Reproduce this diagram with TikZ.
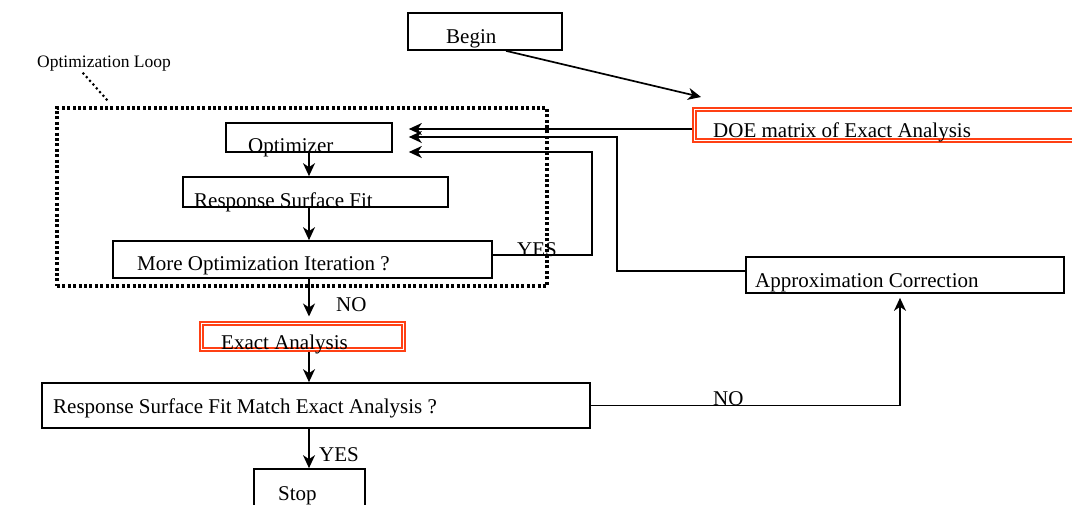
\documentclass[tikz,border=0pt]{standalone}
\usepackage{fontspec}
\setmainfont{Liberation Serif}
\usetikzlibrary{arrows.meta}
\definecolor{boxred}{RGB}{255,64,20}
\begin{document}
\begin{tikzpicture}[x=1pt,y=-1pt,
  box/.style={draw, line width=1.7pt, rectangle, inner sep=0pt},
  redbox/.style={draw=boxred, line width=2pt, rectangle, inner sep=0pt},
  redinner/.style={draw=boxred, line width=2pt},
  lbl/.style={anchor=base west, inner sep=0pt, font=\fontsize{21}{21}\selectfont},
  conn/.style={line width=1.7pt, -{Stealth[length=13pt,width=12pt,inset=4pt]}},
  loopbox/.style={draw, line width=3.2pt, dash pattern=on 3pt off 2.4pt, rectangle, inner sep=0pt},
]
\clip (0,0) rectangle (1072,504);
\fill[white] (0,0) rectangle (1072,504);

% boxes
\node[box, minimum width=154pt, minimum height=37pt] (begin) at (485,31.5) {};
\node[box, minimum width=166pt, minimum height=29pt] (opt) at (309,137.5) {};
\node[box, minimum width=265pt, minimum height=30pt] (rsf) at (315.5,192) {};
\node[box, minimum width=379pt, minimum height=37pt] (moreopt) at (302.5,259.5) {};
\node[redbox, minimum width=392pt, minimum height=34pt] (doe) at (889,125) {};
\draw[redinner] ([shift={(4pt,-4pt)}]doe.north west) rectangle ([shift={(-4pt,4pt)}]doe.south east);
\node[redbox, minimum width=205pt, minimum height=29pt] (exact) at (302.5,336.5) {};
\draw[redinner] ([shift={(4pt,-4pt)}]exact.north west) rectangle ([shift={(-4pt,4pt)}]exact.south east);
\node[box, minimum width=318pt, minimum height=36pt] (approx) at (905,275) {};
\node[box, minimum width=548pt, minimum height=45pt] (rsfm) at (316,405.5) {};
\node[box, minimum width=111pt, minimum height=43pt] (stop) at (309.5,490.5) {};
\node[loopbox, minimum width=490pt, minimum height=178pt] (loop) at (302,197) {};

% texts
\node[lbl] (tbegin) at (446,43) {Begin};
\node[lbl] (topt) at (248,152) {Optimizer};
\node[lbl] (trsf) at (194,207) {Response Surface Fit};
\node[lbl] (tmore) at (137,270) {More Optimization Iteration ?};
\node[lbl] (tdoe) at (713,137) {DOE matrix of Exact Analysis};
\node[lbl] (texact) at (221,349) {Exact Analysis};
\node[lbl] (tapprox) at (755,287) {Approximation Correction};
\node[lbl] (trsfm) at (53,413) {Response Surface Fit Match Exact Analysis ?};
\node[lbl] (tstop) at (278,500) {Stop};
\node[lbl, font=\fontsize{17.5}{17.5}\selectfont] (tloop) at (37,67) {Optimization Loop};
\node[lbl] (tno1) at (336,311) {NO};
\node[lbl] (tyes1) at (517,256) {YES};
\node[lbl] (tno2) at (713,405) {NO};
\node[lbl] (tyes2) at (319,461) {YES};

% leader of the loop label
\draw[line width=3pt, dash pattern=on 0pt off 5pt, line cap=round]
  ([xshift=28pt,yshift=33pt]loop.north west) -- ([xshift=53pt,yshift=5pt]loop.north west);

% connectors
\draw[conn] ([xshift=21pt]begin.south) -- ([xshift=9pt,yshift=10pt]doe.north west);
\draw[conn] ([yshift=-4pt]doe.west) -- ([xshift=16pt,yshift=8.5pt]opt.east);
\draw[conn] ([yshift=4pt]approx.west) -- ++(-128,0) |- ([xshift=16pt,yshift=0.5pt]opt.east);
\draw[conn] ([yshift=4.5pt]moreopt.east) -- ++(99,0) |- ([xshift=16pt,yshift=-14.5pt]opt.east);
\draw[conn] (opt.south) -- (opt.south |- rsf.north);
\draw[conn] (opt.south |- rsf.south) -- (opt.south |- moreopt.north);
\draw[conn] (opt.south |- moreopt.south) -- ([yshift=4.5pt]opt.south |- exact.north);
\draw[conn] (opt.south |- exact.south) -- (opt.south |- rsfm.north);
\draw[conn] (opt.south |- rsfm.south) -- (opt.south |- stop.north);
\draw[conn] (rsfm.east) -| ([xshift=-5pt,yshift=-4pt]approx.south);
\end{tikzpicture}
\end{document}
